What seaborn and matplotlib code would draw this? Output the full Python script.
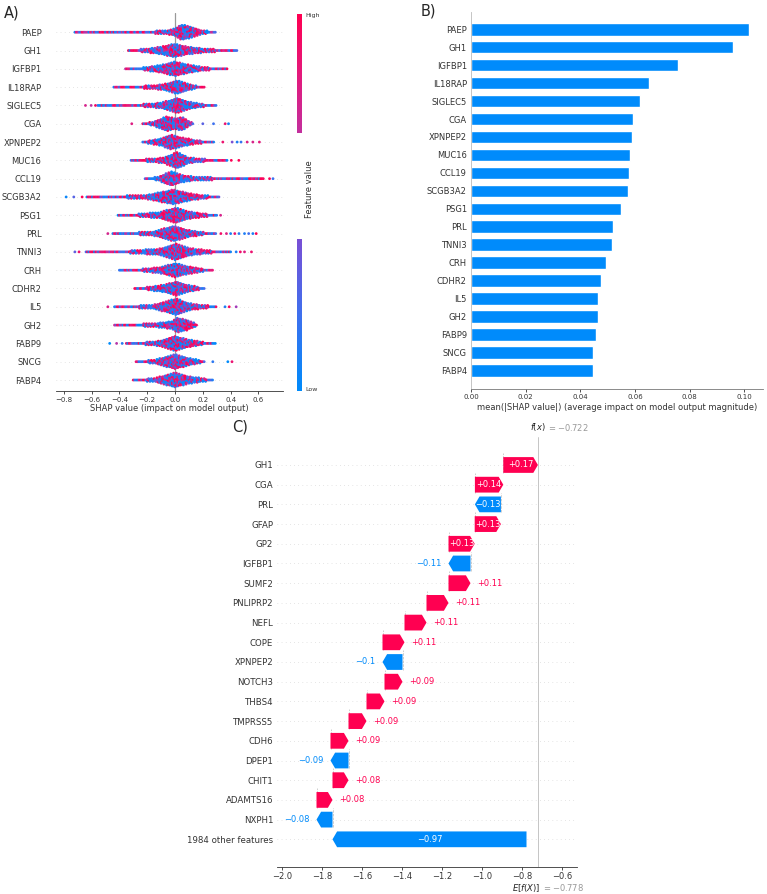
import re
import numpy as np
import pandas as pd
import matplotlib
matplotlib.use("Agg")
import matplotlib.pyplot as plt
import matplotlib.transforms as mtransforms
from matplotlib.colors import LinearSegmentedColormap
import seaborn as sns

sns.set_theme(style="white")
plt.rcParams["font.family"] = ["DejaVu Sans"]
plt.rcParams["axes.unicode_minus"] = True

# ------------------------------------------------------------------ data
features_a = ["PAEP", "GH1", "IGFBP1", "IL18RAP", "SIGLEC5", "CGA", "XPNPEP2",
              "MUC16", "CCL19", "SCGB3A2", "PSG1", "PRL", "TNNI3", "CRH",
              "CDHR2", "IL5", "GH2", "FABP9", "SNCG", "FABP4"]

# beeswarm outline: SHAP positions (knots) and half-height (row units)
swarm_x = [
    [-0.72, -0.45, -0.15, -0.05, 0.0, 0.05, 0.12, 0.2, 0.29],
    [-0.335, -0.2, -0.1, -0.01, 0.1, 0.2, 0.3, 0.445],
    [-0.356, -0.25, -0.1, 0.0, 0.1, 0.2, 0.3, 0.375],
    [-0.44, -0.3, -0.15, -0.05, 0.016, 0.08, 0.15, 0.217],
    [-0.555, -0.35, -0.2, -0.1, 0.016, 0.1, 0.2, 0.3],
    [-0.232, -0.15, -0.06, 0.0, 0.056, 0.1, 0.13],
    [-0.232, -0.1, -0.027, 0.05, 0.15, 0.284],
    [-0.316, -0.2, -0.08, 0.016, 0.1, 0.2, 0.3, 0.38],
    [-0.215, -0.12, -0.027, 0.05, 0.15, 0.3, 0.5, 0.644],
    [-0.634, -0.4, -0.2, -0.01, 0.1, 0.2, 0.325],
    [-0.41, -0.25, -0.1, 0.0, 0.1, 0.2, 0.3],
    [-0.447, -0.3, -0.15, -0.01, 0.1, 0.2, 0.3],
    [-0.64, -0.45, -0.3, -0.1, 0.01, 0.1, 0.25, 0.40],
    [-0.4, -0.25, -0.1, 0.0, 0.1, 0.2, 0.27],
    [-0.29, -0.2, -0.08, 0.01, 0.1, 0.21],
    [-0.435, -0.3, -0.15, 0.01, 0.1, 0.2, 0.3],
    [-0.435, -0.3, -0.15, -0.03, 0.02, 0.08, 0.164],
    [-0.35, -0.2, -0.1, 0.0, 0.1, 0.2, 0.297],
    [-0.28, -0.15, 0.0, 0.1, 0.21],
    [-0.3, -0.15, 0.0, 0.1, 0.27],
]
swarm_w = [
    [0.03, 0.05, 0.07, 0.12, 0.2, 0.42, 0.3, 0.1, 0.03],
    [0.03, 0.1, 0.2, 0.37, 0.2, 0.12, 0.07, 0.03],
    [0.03, 0.06, 0.2, 0.4, 0.22, 0.1, 0.05, 0.03],
    [0.03, 0.05, 0.1, 0.2, 0.38, 0.2, 0.08, 0.03],
    [0.03, 0.05, 0.08, 0.15, 0.4, 0.2, 0.08, 0.03],
    [0.03, 0.12, 0.4, 0.3, 0.36, 0.15, 0.05],
    [0.03, 0.2, 0.4, 0.25, 0.1, 0.03],
    [0.04, 0.08, 0.15, 0.45, 0.15, 0.08, 0.05, 0.03],
    [0.03, 0.1, 0.4, 0.2, 0.1, 0.07, 0.05, 0.03],
    [0.03, 0.06, 0.12, 0.4, 0.2, 0.1, 0.03],
    [0.03, 0.08, 0.18, 0.42, 0.2, 0.1, 0.03],
    [0.03, 0.06, 0.12, 0.42, 0.18, 0.08, 0.04],
    [0.03, 0.05, 0.08, 0.18, 0.45, 0.2, 0.08, 0.04],
    [0.03, 0.06, 0.18, 0.38, 0.2, 0.08, 0.03],
    [0.03, 0.08, 0.2, 0.38, 0.18, 0.03],
    [0.03, 0.06, 0.12, 0.45, 0.2, 0.1, 0.04],
    [0.03, 0.05, 0.1, 0.2, 0.4, 0.3, 0.04],
    [0.03, 0.08, 0.15, 0.4, 0.2, 0.08, 0.03],
    [0.03, 0.1, 0.4, 0.2, 0.04],
    [0.03, 0.1, 0.4, 0.2, 0.03],
]
# isolated points outside the main swarm
swarm_out = [
    [],
    [],
    [],
    [],
    [-0.644, -0.603, -0.572],
    [-0.311, 0.2, 0.277, 0.361, 0.385],
    [0.344, 0.411, 0.447, 0.475, 0.519, 0.56, 0.607],
    [0.405, 0.459],
    [0.68, 0.705],
    [-0.783, -0.728, -0.668],
    [0.328],
    [-0.483, 0.33, 0.37, 0.40, 0.43, 0.46, 0.50, 0.53, 0.56, 0.584],
    [-0.72, -0.69, 0.44, 0.47, 0.50, 0.55],
    [],
    [],
    [-0.483, 0.36, 0.39, 0.44],
    [],
    [-0.47, -0.42, -0.38],
    [0.272, 0.38, 0.41],
    [],
]

features_b = features_a
mean_abs_shap = [0.1018, 0.0957, 0.0757, 0.0650, 0.0617, 0.0593, 0.0590, 0.0582,
                 0.0579, 0.0574, 0.0549, 0.0519, 0.0514, 0.0493, 0.0476, 0.0464,
                 0.0463, 0.0458, 0.0446, 0.0446]

wf_features = ["GH1", "CGA", "PRL", "GFAP", "GP2", "IGFBP1", "SUMF2", "PNLIPRP2",
               "NEFL", "COPE", "XPNPEP2", "NOTCH3", "THBS4", "TMPRSS5", "CDH6",
               "DPEP1", "CHIT1", "ADAMTS16", "NXPH1", "1984 other features"]
wf_values = [0.173, 0.142, -0.13, 0.131, 0.131, -0.11, 0.11, 0.11, 0.11, 0.11,
             -0.10, 0.09, 0.09, 0.09, 0.09, -0.09, 0.08, 0.08, -0.08, -0.97]
base_value = -0.778
fx_value = -0.722

# ------------------------------------------------------------------ style
RED = "#ff0051"
BLUE = "#008bfb"
TXT = "#333333"
shap_cmap = LinearSegmentedColormap.from_list(
    "shap_rb", [(0.0, "#008bfb"), (0.2, "#3f70ee"), (0.403, "#7a4fd5"),
                (0.55, "#a03cbb"), (0.684, "#c3309e"), (0.85, "#e6187a"),
                (1.0, "#ff0052")])

W, H = 767, 894
fig = plt.figure(figsize=(W / 100, H / 100), dpi=100)


def px_rect(l, t, r, b):
    return [l / W, 1 - b / H, (r - l) / W, (b - t) / H]


# ------------------------------------------------------------------ panel A
axa = fig.add_axes(px_rect(56, 13, 283.3, 391))
n_a = len(features_a)
dot_dx = 0.010
dot_dy = 0.10
rows_x, rows_y, rows_c = [], [], []
k = 0


def texture(idx):
    # deterministic colour texture for the dense swarm
    u = (np.sin(idx * 12.9898 + 78.233) * 43758.5453) % 1.0
    return 0.5 + 0.5 * np.sign(u - 0.5) * abs(2 * u - 1) ** 0.35


for r in range(n_a):
    ypos = n_a - 1 - r
    xs, ws = swarm_x[r], swarm_w[r]
    grid = np.arange(xs[0], xs[-1] + 1e-9, dot_dx)
    for j, gx in enumerate(grid):
        w = np.interp(gx, xs, ws)
        m = max(1, int(round(2 * w / dot_dy)))
        shift = 0.0 if m == 1 else (0.25 * dot_dy if j % 2 else -0.25 * dot_dy)
        for o in (np.arange(m) - (m - 1) / 2) * dot_dy:
            rows_x.append(gx)
            rows_y.append(ypos + o + shift)
            rows_c.append(texture(k))
            k += 1
    for ox in swarm_out[r]:
        rows_x.append(ox)
        rows_y.append(ypos)
        rows_c.append(texture(k))
        k += 1

df_a = pd.DataFrame({"shap": rows_x, "row": rows_y, "fv": rows_c})
for i in range(n_a):
    axa.axhline(i, color="#cccccc", lw=0.5, dashes=(1, 5), zorder=-1)
axa.axvline(0, color="#999999", lw=0.9, zorder=-1)
sns.scatterplot(data=df_a, x="shap", y="row", hue="fv", palette=shap_cmap,
                hue_norm=(0, 1), s=4.0, linewidth=0, legend=False, ax=axa,
                zorder=3)
axa.set_xlim(-0.856, 0.779)
axa.set_ylim(-0.6, 20.05)
axa.set_yticks(range(n_a))
axa.set_yticklabels(features_a[::-1], fontsize=6, color=TXT)
axa.tick_params(axis="y", length=0, pad=10.5)
axa.set_xticks(np.round(np.arange(-0.8, 0.61, 0.2), 1))
axa.tick_params(axis="x", labelsize=5, colors=TXT, length=2.5, width=0.6,
                pad=1.5, bottom=True)
axa.set_xlabel("SHAP value (impact on model output)", fontsize=6, color=TXT,
               labelpad=1)
axa.set_ylabel("")
for s in ["left", "top", "right"]:
    axa.spines[s].set_visible(False)
axa.spines["bottom"].set_color(TXT)
axa.spines["bottom"].set_linewidth(0.6)

# colour bar (two segments, as in the reference)
cb1 = fig.add_axes(px_rect(297, 14, 302, 133))
cb1.imshow(np.linspace(1.0, 0.684, 128).reshape(-1, 1), aspect="auto",
           cmap=shap_cmap, vmin=0, vmax=1)
cb1.set_axis_off()
cb2 = fig.add_axes(px_rect(297, 239, 302, 391))
cb2.imshow(np.linspace(0.403, 0.0, 128).reshape(-1, 1), aspect="auto",
           cmap=shap_cmap, vmin=0, vmax=1)
cb2.set_axis_off()
fig.text(305 / W, 1 - 15 / H, "High", fontsize=4.5, color=TXT, va="center")
fig.text(305 / W, 1 - 390 / H, "Low", fontsize=4.5, color=TXT, va="center")
fig.text(309 / W, 1 - 189 / H, "Feature value", fontsize=6, color=TXT,
         rotation=90, va="center", ha="center")

# ------------------------------------------------------------------ panel B
axb = fig.add_axes(px_rect(471, 12, 762.7, 388.7))
df_b = pd.DataFrame({"feature": features_b, "value": mean_abs_shap})
sns.barplot(data=df_b, x="value", y="feature", color=BLUE, saturation=1,
            width=0.7, orient="h", errorbar=None, ax=axb)
axb.set_ylim(20.02, -0.96)
axb.set_xlim(0, 0.1067)
axb.set_xticks(np.round(np.arange(0, 0.101, 0.02), 2))
axb.set_xticklabels(["%.2f" % t for t in np.arange(0, 0.101, 0.02)])
axb.tick_params(axis="x", labelsize=5, colors=TXT, length=2.5, width=0.6,
                pad=1.5, bottom=True)
axb.tick_params(axis="y", length=0, pad=3, labelsize=6, labelcolor=TXT)
axb.set_ylabel("")
axb.set_xlabel("mean(|SHAP value|) (average impact on model output magnitude)",
               fontsize=6, color=TXT, labelpad=2)
for s in ["top", "right"]:
    axb.spines[s].set_visible(False)
axb.spines["left"].set_color("#bbbbbb")
axb.spines["left"].set_linewidth(0.6)
axb.spines["bottom"].set_color("#777777")
axb.spines["bottom"].set_linewidth(0.6)

# ------------------------------------------------------------------ panel C
axc = fig.add_axes(px_rect(277.3, 437, 577.3, 866.7))
n_c = len(wf_features)
ypos_c = np.arange(n_c)[::-1]
starts = np.zeros(n_c)
cur = base_value
for i in range(n_c - 1, -1, -1):
    starts[i] = cur
    cur += wf_values[i]

axc.set_xlim(-2.024, -0.524)
axc.set_ylim(-1.39, 20.42)
for y in range(n_c):
    axc.axhline(y, color="#cccccc", lw=0.5, dashes=(1, 5), zorder=-1)
axc.axvline(fx_value, color="#bbbbbb", lw=0.6, zorder=-1)

hl = 0.023
bar_w = 0.8


def fmt(v):
    s = "%+0.02f" % v
    s = re.sub(r"\.?0+$", "", s)
    if s[0] == "-":
        s = "\u2212" + s[1:]
    return s


pt = 1 / 72
off = mtransforms.ScaledTranslation(5 * pt, 0, fig.dpi_scale_trans)
offn = mtransforms.ScaledTranslation(-5 * pt, 0, fig.dpi_scale_trans)
for i in range(n_c):
    v = wf_values[i]
    x0 = starts[i]
    y = ypos_c[i]
    col = RED if v > 0 else BLUE
    d = abs(v)
    sgn = 1 if v > 0 else -1
    axc.arrow(x0, y, sgn * max(d - hl, 1e-6), 0, head_length=min(d, hl),
              width=bar_w, head_width=bar_w, color=col, lw=0,
              length_includes_head=False, zorder=3)
    if i < n_c - 1:
        axc.plot([x0, x0], [y - 0.4, y + 1 - 0.4], color="#bbbbbb",
                 lw=0.5, ls="--", zorder=-1)
    inside = d >= 0.125
    if inside:
        axc.text(x0 + v / 2, y, fmt(v), ha="center", va="center", color="white",
                 fontsize=6, zorder=4)
    else:
        if v > 0:
            axc.text(x0 + v, y, fmt(v), ha="left", va="center", color=col,
                     fontsize=6, transform=axc.transData + off)
        else:
            axc.text(x0 + v, y, fmt(v), ha="right", va="center", color=col,
                     fontsize=6, transform=axc.transData + offn)

axc.set_yticks(ypos_c)
axc.set_yticklabels(wf_features, fontsize=6.2, color=TXT)
axc.tick_params(axis="y", length=0, pad=3)
axc.set_xticks(np.round(np.arange(-2.0, -0.59, 0.2), 1))
axc.tick_params(axis="x", labelsize=6, colors=TXT, length=2.5, width=0.6,
                pad=1.5, bottom=True)
for s in ["left", "top", "right"]:
    axc.spines[s].set_visible(False)
axc.spines["bottom"].set_color(TXT)
axc.spines["bottom"].set_linewidth(0.6)

tr_top = mtransforms.blended_transform_factory(axc.transData, axc.transAxes)
axc.text(fx_value, 1.01, "$f(x)$", ha="center", va="bottom", fontsize=6,
         color="#222222", transform=tr_top)
axc.text(fx_value, 1.01, "$ = -0.722$", ha="left", va="bottom", fontsize=6,
         color="#999999",
         transform=tr_top + mtransforms.ScaledTranslation(7 * pt, 0, fig.dpi_scale_trans))
axc.text(base_value, -0.035, "$E[f(X)]$", ha="center", va="top", fontsize=6,
         color="#222222", transform=tr_top)
axc.text(base_value, -0.035, "$ = -0.778$", ha="left", va="top", fontsize=6,
         color="#999999",
         transform=tr_top + mtransforms.ScaledTranslation(11 * pt, 0, fig.dpi_scale_trans))

# panel letters
fig.text(4 / W, 1 - 13 / H, "A)", fontsize=10.5, va="center", ha="left")
fig.text(421 / W, 1 - 11 / H, "B)", fontsize=10.5, va="center", ha="left")
fig.text(232 / W, 1 - 427 / H, "C)", fontsize=10.5, va="center", ha="left")

fig.savefig("out.png", dpi=100, facecolor="white")
